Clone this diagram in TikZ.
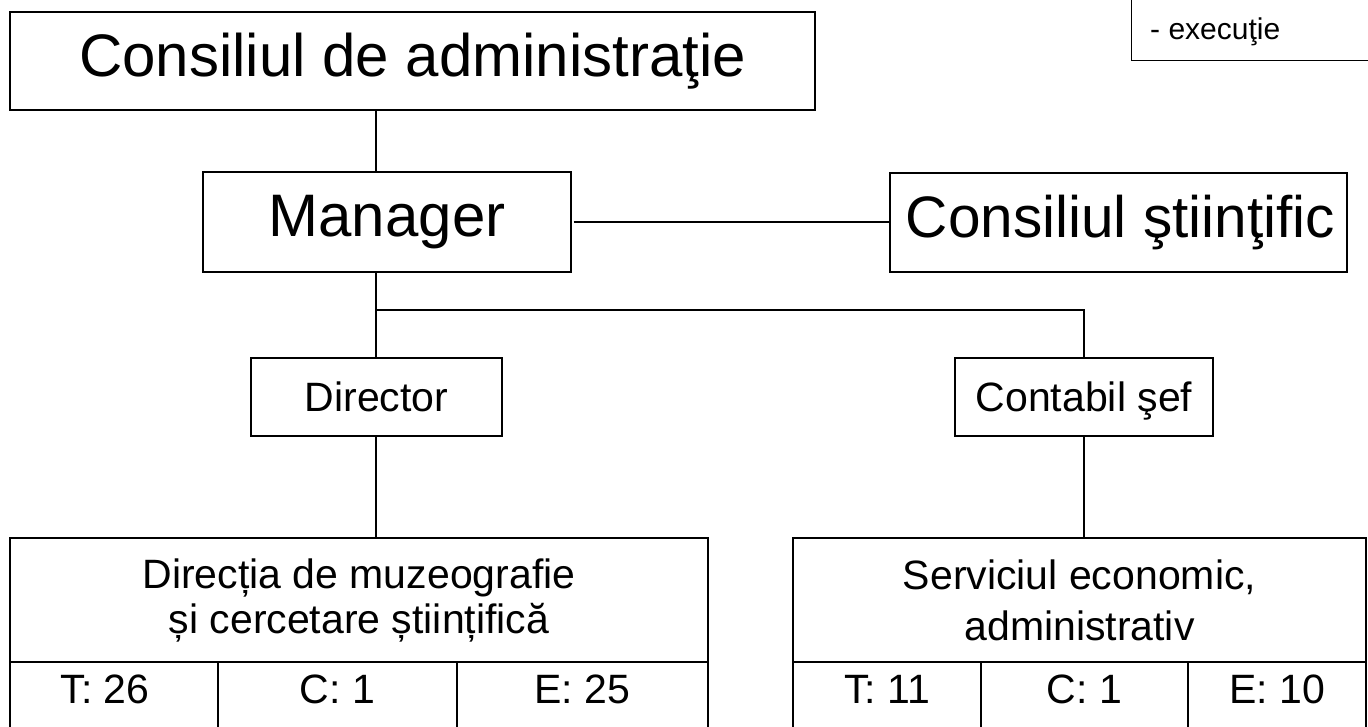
\documentclass[tikz,border=0pt]{standalone}
\usepackage{fontspec}
\setmainfont{Liberation Sans}
\begin{document}
\begin{tikzpicture}[x=1pt,y=-1pt,
  box/.style={draw=black, line width=1.4pt, rectangle, inner sep=0pt, align=center},
  big/.style={font=\fontsize{60}{68}\selectfont},
  mid/.style={font=\fontsize{41}{45}\selectfont},
  sml/.style={font=\fontsize{30}{36}\selectfont},
  lbl/.style={inner sep=0pt},
  conn/.style={draw=black, line width=1.4pt}]
\useasboundingbox (0,0) rectangle (1368,726);
\clip (0,0) rectangle (1368,726);
% top right box
\node[box, minimum width=249, minimum height=101, anchor=south west] (exec) at (1131,61) {};
\node[lbl, sml, anchor=base west] (exect) at (1150,39) {- execuţie};
% main boxes
\node[box, big, minimum width=805, minimum height=98] (ca) at (412.5,61) {\raisebox{-2.5pt}{Consiliul de administraţie}};
\node[box, big, minimum width=368, minimum height=100] (man) at (387,222) {\raisebox{-2.5pt}{Manager}};
\node[box, font=\fontsize{58.5}{66}\selectfont, minimum width=457, minimum height=99] (cs) at (1118.5,222.5) {\raisebox{-3pt}{\hspace*{4pt}Consiliul ştiinţific}};
\node[box, mid, minimum width=251, minimum height=78, text depth=0pt] (dir) at (376.5,397) {Director};
\node[box, mid, minimum width=258, minimum height=78, text depth=0pt] (cont) at (1084,397) {Contabil şef};
% lower blocks
\node[box, mid, minimum width=698, minimum height=124] (dmz) at (359,600) {Direcția de muzeografie\\și cercetare științifică};
\node[box, minimum width=208, minimum height=98] (t1) at (114,711) {};
\node[box, minimum width=239, minimum height=98] (c1) at (337.5,711) {};
\node[box, minimum width=251, minimum height=98] (e1) at (582.5,711) {};
\node[lbl, mid, anchor=base] (t1t) at (105,703) {T: 26};
\node[lbl, mid, anchor=base] (c1t) at (337.5,703) {C: 1};
\node[lbl, mid, anchor=base] (e1t) at (582.5,703) {E: 25};
\node[box, mid, minimum width=573, minimum height=124] (sea) at (1079.5,600) {Serviciul economic,\\[6pt]administrativ};
\node[box, minimum width=188, minimum height=98] (t2) at (887,711) {};
\node[box, minimum width=207, minimum height=98] (c2) at (1084.5,711) {};
\node[box, minimum width=178, minimum height=98] (e2) at (1277,711) {};
\node[lbl, mid, anchor=base] (t2t) at (887,703) {T: 11};
\node[lbl, mid, anchor=base] (c2t) at (1084.5,703) {C: 1};
\node[lbl, mid, anchor=base] (e2t) at (1277,703) {E: 10};
% connectors
\coordinate (j) at (376,310);
\draw[conn] (ca.south -| j) -- (man.north -| j);
\draw[conn] (man.south -| j) -- (dir.north -| j);
\draw[conn] (j) -| (cont.north);
\draw[conn] ([xshift=2pt]man.east) -- (man.east -| cs.west);
\draw[conn] (dir.south -| j) -- (dmz.north -| j);
\draw[conn] (cont.south) -- (cont.south |- sea.north);
\end{tikzpicture}
\end{document}
